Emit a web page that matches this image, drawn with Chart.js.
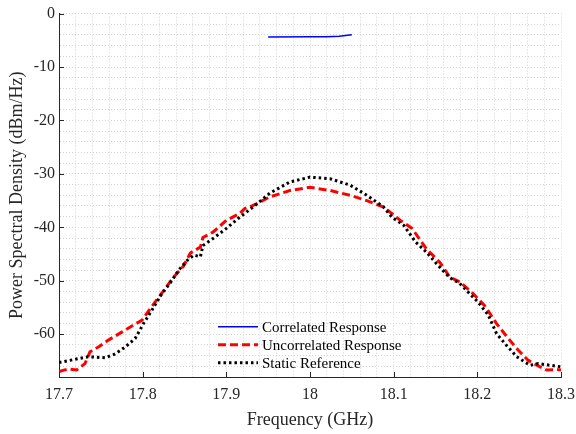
<!DOCTYPE html>
<html>
<head>
<meta charset="utf-8">
<script src="https://cdn.jsdelivr.net/npm/chart.js@4"></script>
<style>
  html, body { margin: 0; padding: 0; background: #fff; }
  #wrap { width: 576px; height: 434px; }
</style>
</head>
<body>
<div id="wrap"><canvas id="psd"></canvas></div>
<script>
// values
const corrFreq = [17.950, 18.000, 18.020, 18.035, 18.050];
const corrPsd = [-4.4, -4.35, -4.35, -4.25, -3.95];

const uncorrFreq = [17.700, 17.711, 17.721, 17.731, 17.737, 17.747, 17.759, 17.775, 17.791, 17.799,
  17.809, 17.821, 17.837, 17.849, 17.857, 17.869, 17.872, 17.884, 17.900, 17.916,
  17.922, 17.932, 17.952, 17.976, 18.000, 18.024, 18.048, 18.068, 18.088, 18.108,
  18.122, 18.139, 18.155, 18.167, 18.179, 18.195, 18.209, 18.223, 18.237, 18.249,
  18.261, 18.275, 18.283, 18.295, 18.300];
const uncorrPsd = [-67.0, -66.5, -66.7, -65.5, -63.3, -62.4, -61.1, -59.6, -58.1, -57.4,
  -55.2, -52.7, -49.3, -47.2, -44.8, -43.7, -41.9, -40.9, -38.7, -37.4,
  -36.5, -35.9, -34.3, -33.1, -32.5, -33.1, -34.0, -35.0, -36.2, -38.7,
  -40.2, -44.0, -46.5, -49.3, -50.2, -52.4, -54.7, -58.0, -60.8, -63.0,
  -64.9, -66.1, -66.7, -66.6, -66.7];

const staticFreq = [17.700, 17.719, 17.735, 17.755, 17.767, 17.779, 17.791, 17.801, 17.811, 17.823,
  17.833, 17.843, 17.853, 17.861, 17.869, 17.872, 17.884, 17.900, 17.916, 17.932,
  17.952, 17.976, 18.000, 18.024, 18.048, 18.068, 18.088, 18.098, 18.112, 18.126,
  18.139, 18.153, 18.167, 18.179, 18.187, 18.201, 18.213, 18.223, 18.235, 18.247,
  18.263, 18.273, 18.287, 18.300];
const staticPsd = [-65.3, -64.7, -64.2, -64.4, -63.7, -62.4, -60.8, -58.0, -55.5, -52.4,
  -50.4, -48.0, -46.2, -45.2, -45.5, -43.4, -42.1, -40.2, -38.1, -36.2,
  -33.6, -31.5, -30.6, -30.9, -32.1, -34.0, -36.2, -38.1, -39.6, -42.7,
  -44.6, -47.1, -49.4, -50.5, -51.8, -54.0, -56.4, -59.9, -62.1, -64.2,
  -65.8, -65.5, -65.8, -66.1];

const seriesNames = ['Correlated Response', 'Uncorrelated Response', 'Static Reference'];
const xMajorTicks = [17.7, 17.8, 17.9, 18.0, 18.1, 18.2, 18.3];
const yMajorTicks = [0, -10, -20, -30, -40, -50, -60];

const FONT = '"Liberation Serif", "Times New Roman", serif';

function toPoints(xs, ys) {
  return xs.map((x, i) => ({ x: x, y: ys[i] }));
}

// MATLAB-like inward ticks on the axes
const insideTicks = {
  id: 'insideTicks',
  afterDatasetsDraw(chart) {
    const { ctx, chartArea, scales } = chart;
    ctx.save();
    ctx.strokeStyle = '#262626';
    ctx.lineWidth = 1;
    ctx.beginPath();
    xMajorTicks.forEach(v => {
      const px = Math.round(scales.x.getPixelForValue(v)) + 0.5;
      ctx.moveTo(px, chartArea.bottom);
      ctx.lineTo(px, chartArea.bottom - 5);
    });
    yMajorTicks.forEach(v => {
      const py = Math.round(scales.y.getPixelForValue(v)) + 0.5;
      ctx.moveTo(chartArea.left, py);
      ctx.lineTo(chartArea.left + 5, py);
    });
    ctx.stroke();
    ctx.restore();
  }
};

// legend drawn inside the plot, lower middle, no box
const innerLegend = {
  id: 'innerLegend',
  afterDraw(chart) {
    const { ctx, scales } = chart;
    const x0 = scales.x.getPixelForValue(17.89);
    const y0 = scales.y.getPixelForValue(-58.6);
    const rowH = 18;
    ctx.save();
    ctx.font = '15px ' + FONT;
    ctx.textBaseline = 'middle';
    chart.data.datasets.forEach((ds, i) => {
      const y = y0 + i * rowH;
      ctx.strokeStyle = ds.borderColor;
      ctx.lineWidth = ds.borderWidth;
      ctx.setLineDash(ds.borderDash || []);
      ctx.beginPath();
      ctx.moveTo(x0, y);
      ctx.lineTo(x0 + 40, y);
      ctx.stroke();
      ctx.setLineDash([]);
      ctx.fillStyle = '#000';
      ctx.fillText(ds.label, x0 + 44, y + 1);
    });
    ctx.restore();
  }
};

const ctx = document.getElementById('psd').getContext('2d');
new Chart(ctx, {
  type: 'line',
  data: {
    datasets: [
      {
        label: seriesNames[0],
        data: toPoints(corrFreq, corrPsd),
        borderColor: '#0000ff',
        borderWidth: 1.5,
        pointRadius: 0,
        order: 2
      },
      {
        label: seriesNames[1],
        data: toPoints(uncorrFreq, uncorrPsd),
        borderColor: '#ff0000',
        borderWidth: 3,
        borderDash: [8, 4],
        pointRadius: 0,
        order: 1
      },
      {
        label: seriesNames[2],
        data: toPoints(staticFreq, staticPsd),
        borderColor: '#000000',
        borderWidth: 3,
        borderDash: [2.5, 3],
        pointRadius: 0,
        order: 0
      }
    ]
  },
  options: {
    responsive: true,
    maintainAspectRatio: false,
    animation: false,
    layout: { padding: { left: 0, top: 13, right: 15, bottom: 0 } },
    plugins: {
      legend: { display: false },
      tooltip: { enabled: false }
    },
    scales: {
      x: {
        type: 'linear',
        min: 17.7,
        max: 18.3,
        afterFit: s => { s.height = 57; s.paddingLeft = 0; s.paddingRight = 0; },
        ticks: {
          stepSize: 0.02,
          autoSkip: false,
          maxRotation: 0,
          padding: 8,
          color: '#262626',
          font: { family: FONT, size: 16 },
          callback: v => {
            const k = Math.round(v * 100);
            return k % 10 === 0 ? String(parseFloat((k / 100).toFixed(1))) : '';
          }
        },
        grid: { color: '#d4d4d4', lineWidth: 1, drawTicks: false },
        border: { display: true, color: '#262626', width: 1, dash: [1, 2] },
        title: {
          display: true,
          text: 'Frequency (GHz)',
          color: '#262626',
          font: { family: FONT, size: 18 },
          padding: { top: 0, bottom: 3 }
        }
      },
      y: {
        min: -68,
        max: 0,
        afterFit: s => { s.width = 59; },
        ticks: {
          stepSize: 2,
          autoSkip: false,
          padding: 4,
          color: '#262626',
          font: { family: FONT, size: 16 },
          callback: v => (Math.round(v) % 10 === 0 ? String(Math.round(v)) : '')
        },
        grid: { color: '#d4d4d4', lineWidth: 1, drawTicks: false },
        border: { display: true, color: '#262626', width: 1, dash: [1, 2] },
        title: {
          display: true,
          text: 'Power Spectral Density (dBm/Hz)',
          color: '#262626',
          font: { family: FONT, size: 18 },
          padding: { top: 6, bottom: 0 }
        }
      }
    }
  },
  plugins: [insideTicks, innerLegend]
});
</script>
</body>
</html>
